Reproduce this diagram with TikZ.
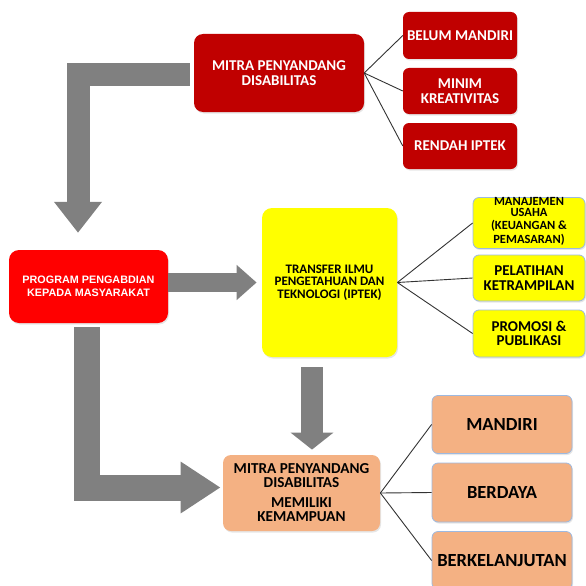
\documentclass[tikz,border=0pt]{standalone}
\usepackage{fontspec}
\setmainfont{Carlito}[BoldFont={Carlito Bold}]
\newfontfamily\arialfont{Liberation Sans}
\usetikzlibrary{arrows.meta,calc,shadows}

\definecolor{darkred}{HTML}{C00000}
\definecolor{brightred}{HTML}{FF0000}
\definecolor{boxyellow}{HTML}{FFFF00}
\definecolor{peach}{HTML}{F4B183}
\definecolor{flowgray}{HTML}{808080}
\definecolor{edgeblue}{HTML}{9DB9E0}

\begin{document}
\begin{tikzpicture}[x=1pt,y=-1pt,
  box/.style={rounded corners=6pt,align=center,inner sep=0pt,font=\bfseries,
    drop shadow={opacity=0.2,shadow xshift=1pt,shadow yshift=-1.5pt}},
  redbox/.style={box,fill=darkred,text=white},
  progbox/.style={box,fill=brightred,text=white,rounded corners=10pt},
  ybox/.style={box,fill=boxyellow,draw=edgeblue,line width=0.8pt},
  pbox/.style={box,fill=peach,draw=edgeblue,line width=0.8pt},
  link/.style={draw=black!80,line width=0.9pt},
  flow/.style={draw=flowgray,line width=#1,line join=miter}]
  \clip (0,0) rectangle (586,586);

  % masalah mitra
  \node[redbox,minimum width=170pt,minimum height=78pt,rounded corners=9pt,
    font=\bfseries\fontsize{15}{15}\selectfont] (mitra) at (279,73) {MITRA PENYANDANG\\DISABILITAS};
  \node[redbox,minimum width=114pt,minimum height=47pt,font=\bfseries\fontsize{15}{15}\selectfont] (belum) at (460,35.5) {BELUM MANDIRI};
  \node[redbox,minimum width=114pt,minimum height=46pt,font=\bfseries\fontsize{15}{15}\selectfont] (minim) at (460,91) {MINIM\\KREATIVITAS};
  \node[redbox,minimum width=114pt,minimum height=46pt,font=\bfseries\fontsize{15}{15}\selectfont] (rendah) at (460,146) {RENDAH IPTEK};

  % program
  \node[progbox,minimum width=159pt,minimum height=73pt,
    font=\arialfont\bfseries\fontsize{10.8}{13.3}\selectfont] (prog) at (88.5,286.5) {PROGRAM PENGABDIAN\\KEPADA MASYARAKAT};
  \node[ybox,draw=none,rounded corners=10pt,minimum width=135pt,minimum height=149pt,
    font=\bfseries\fontsize{13}{12.5}\selectfont] (trans) at (329.5,282.5) {TRANSFER ILMU\\PENGETAHUAN DAN\\TEKNOLOGI (IPTEK)};
  \node[ybox,minimum width=112pt,minimum height=48pt,font=\bfseries\fontsize{12.5}{12}\selectfont] (manaj) at (529,223) {\raisebox{5pt}{\shortstack{MANAJEMEN\\USAHA\\(KEUANGAN \&\\PEMASARAN)}}};
  \node[ybox,minimum width=112pt,minimum height=46pt,font=\bfseries\fontsize{15}{15}\selectfont] (pelat) at (529,278) {PELATIHAN\\KETRAMPILAN};
  \node[ybox,minimum width=112pt,minimum height=47pt,font=\bfseries\fontsize{15}{14.5}\selectfont] (promo) at (529,333.5) {PROMOSI \&\\PUBLIKASI};

  % hasil
  \node[pbox,draw=none,rounded corners=8pt,minimum width=157pt,minimum height=76pt,
    font=\bfseries\fontsize{15.2}{14}\selectfont] (hasil) at (301.5,493) {MITRA PENYANDANG\\DISABILITAS\\[6pt]MEMILIKI\\KEMAMPUAN};
  \node[pbox,minimum width=140pt,minimum height=58pt,font=\bfseries\fontsize{18.5}{20}\selectfont] (mandiri) at (502,424.5) {MANDIRI};
  \node[pbox,minimum width=140pt,minimum height=59pt,font=\bfseries\fontsize{18.5}{20}\selectfont] (berdaya) at (502,492.5) {BERDAYA};
  \node[pbox,minimum width=140pt,minimum height=58pt,font=\bfseries\fontsize{18.5}{20}\selectfont] (lanjut) at (502,560.5) {BERKELANJUTAN};

  % garis
  \foreach \k in {belum,minim,rendah}
    \draw[link] (mitra.east) -- (\k.west);
  \foreach \k in {manaj,pelat,promo}
    \draw[link] (trans.east) -- (\k.west);
  \foreach \k in {mandiri,berdaya,lanjut}
    \draw[link] (hasil.east) -- (\k.west);

  % panah besar
  \draw[flow=23pt,-{Triangle[length=31pt,width=46pt]},shorten <=4pt,shorten >=17pt]
    ([yshift=-1.5pt]mitra.west) -| ([xshift=-10.5pt]prog.north);
  \draw[flow=19pt,-{Triangle[length=20pt,width=34pt]},shorten >=5pt]
    (prog.east |- trans.west) -- (trans.west);
  \draw[flow=22pt,-{Triangle[length=17pt,width=42pt]},shorten <=10pt,shorten >=5pt]
    ([xshift=-17.5pt]trans.south) -- ([xshift=10.5pt]hasil.north);
  \draw[flow=26pt,-{Triangle[length=40pt,width=49pt]},shorten <=4pt,shorten >=2pt]
    ([xshift=-1.5pt]prog.south) |- ([yshift=5.5pt]hasil.west);
\end{tikzpicture}
\end{document}
